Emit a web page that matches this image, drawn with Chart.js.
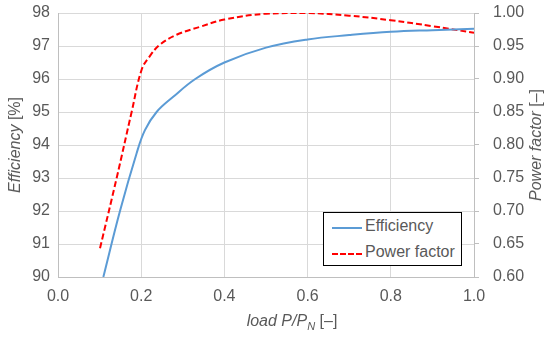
<!DOCTYPE html>
<html>
<head>
<meta charset="utf-8">
<script src="https://cdn.jsdelivr.net/npm/chart.js@4"></script>
<style>
  body { margin: 0; background: #fff; }
  #wrap { position: relative; width: 550px; height: 338px; font-family: "Liberation Sans", Arial, sans-serif; color: #595959; }
  .title { position: absolute; font-size: 16px; white-space: nowrap; transform: translate(-50%, -50%); }
  .title i { font-style: italic; }
  .rot { transform: translate(-50%, -50%) rotate(-90deg); }
  #legend { position: absolute; left: 323px; top: 212px; width: 137px; height: 52px; border: 1px solid #000; background: #fff; font-size: 16px; color: #595959; }
  .item { position: absolute; left: 8px; height: 20px; line-height: 20px; }
  .item span.swatch { position: absolute; left: 0; top: 10px; width: 30px; }
  .item span.txt { position: absolute; left: 33px; top: -1px; white-space: nowrap; }
</style>
</head>
<body>
<div id="wrap">
  <canvas id="chart" width="550" height="338"></canvas>
  <div class="title rot" style="left:15px; top:145px;"><i>Efficiency</i> [%]</div>
  <div class="title rot" style="left:536px; top:145px;"><i>Power factor</i> [–]</div>
  <div class="title" style="left:292px; top:322px;"><i>load P/P<sub style="font-size:11px">N</sub></i> [–]</div>
  <div id="legend">
    <div class="item" style="top:4px;"><span class="swatch" style="border-top:2px solid #5b9bd5;"></span><span class="txt">Efficiency</span></div>
    <div class="item" style="top:30px;"><span class="swatch" style="border-top:2px dashed #ff0000;"></span><span class="txt">Power factor</span></div>
  </div>
</div>
<script>
// load points and efficiency [%]
const loadEff = [0.109, 0.149, 0.189, 0.209, 0.237, 0.277, 0.33, 0.4, 0.5, 0.6, 0.7, 0.8, 0.9, 1.0];
const efficiency = [90, 92, 93.75, 94.45, 95.0, 95.46, 96.0, 96.5, 96.95, 97.2, 97.33, 97.43, 97.48, 97.52];

// load points and power factor [-]
const loadPf = [0.101, 0.141, 0.177, 0.201, 0.22, 0.245, 0.285, 0.341, 0.4, 0.5, 0.6, 0.7, 0.8, 0.9, 1.0];
const powerFactor = [0.6435, 0.75, 0.85, 0.914, 0.934, 0.952, 0.967, 0.979, 0.99, 0.999, 1.0, 0.996, 0.989, 0.98, 0.97];

const grey = "#595959";
const tickFont = { family: "Liberation Sans", size: 16 };

// keep the plot area fixed: no extra padding from tick labels
function fixPad(s) {
  s.paddingTop = 0;
  s.paddingBottom = 0;
  s.paddingLeft = 0;
  s.paddingRight = 0;
}

const ctx = document.getElementById("chart").getContext("2d");
new Chart(ctx, {
  type: "line",
  data: {
    datasets: [
      {
        label: "Efficiency",
        data: loadEff.map((x, i) => ({ x: x, y: efficiency[i] })),
        borderColor: "#5b9bd5",
        borderWidth: 2,
        pointRadius: 0,
        tension: 0.4,
        yAxisID: "y"
      },
      {
        label: "Power factor",
        data: loadPf.map((x, i) => ({ x: x, y: powerFactor[i] })),
        borderColor: "#ff0000",
        borderWidth: 2,
        borderDash: [6, 3],
        pointRadius: 0,
        tension: 0.4,
        yAxisID: "y1"
      }
    ]
  },
  options: {
    responsive: false,
    animation: false,
    layout: { padding: { top: 13, left: 0, right: 0, bottom: 0 } },
    plugins: { legend: { display: false }, tooltip: { enabled: false } },
    scales: {
      x: {
        type: "linear",
        min: 0, max: 1,
        ticks: { stepSize: 0.2, color: grey, font: tickFont, padding: 10, callback: v => v.toFixed(1) },
        grid: { color: "#d9d9d9", drawTicks: false },
        border: { color: "#bfbfbf" },
        afterFit: s => { s.height = 61; fixPad(s); }
      },
      y: {
        position: "left",
        min: 90, max: 98,
        ticks: { stepSize: 1, color: grey, font: tickFont, padding: 8 },
        grid: { color: "#d9d9d9", drawTicks: false },
        border: { color: "#bfbfbf" },
        afterFit: s => { s.width = 58; fixPad(s); }
      },
      y1: {
        position: "right",
        min: 0.6, max: 1.0,
        ticks: { stepSize: 0.05, color: grey, font: tickFont, padding: 14, callback: v => v.toFixed(2) },
        grid: { drawOnChartArea: false, color: "#bfbfbf", tickLength: 5 },
        border: { color: "#bfbfbf" },
        afterFit: s => { s.width = 76; fixPad(s); }
      }
    }
  }
});
</script>
</body>
</html>
